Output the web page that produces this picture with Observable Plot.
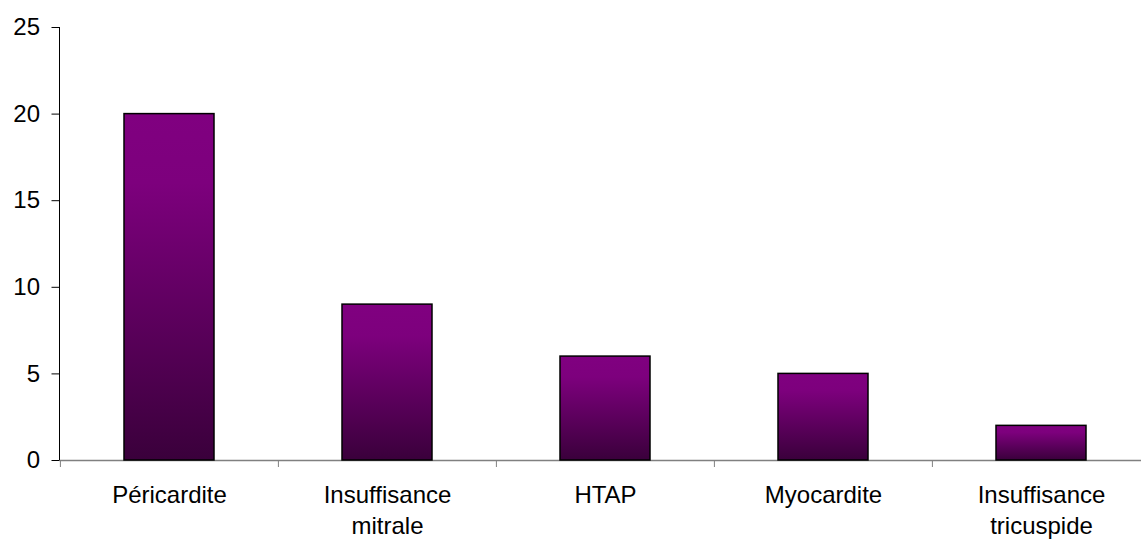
<!DOCTYPE html>
<html>
<head>
<meta charset="utf-8">
<script src="https://cdn.jsdelivr.net/npm/d3@7"></script>
<script src="https://cdn.jsdelivr.net/npm/@observablehq/plot@0.6"></script>
<style>
  html, body { margin: 0; padding: 0; background: #fff; }
  #chart svg { display: block; }
</style>
</head>
<body>
<div id="chart"></div>
<script>
const categories = ["Péricardite", "Insuffisance mitrale", "HTAP", "Myocardite", "Insuffisance tricuspide"];
const tickLabels = ["Péricardite", "Insuffisance\nmitrale", "HTAP", "Myocardite", "Insuffisance\ntricuspide"];
const values = [20, 9, 6, 5, 2];
const yTicks = [0, 5, 10, 15, 20, 25];

const data = categories.map((c, i) => ({category: c, value: values[i]}));
const labelOf = new Map(categories.map((c, i) => [c, tickLabels[i]]));

const W = 1141, H = 540;
const xRange = [59.5, 1150.5];
const step = (xRange[1] - xRange[0]) / categories.length;

const gradientDefs = () => {
  const ns = "http://www.w3.org/2000/svg";
  const defs = document.createElementNS(ns, "defs");
  const lg = document.createElementNS(ns, "linearGradient");
  lg.setAttribute("id", "barGrad");
  lg.setAttribute("x1", "0"); lg.setAttribute("y1", "0");
  lg.setAttribute("x2", "0"); lg.setAttribute("y2", "1");
  [["0", "#800080"], ["0.2", "#7d007d"], ["1", "#3a003b"]].forEach(([o, c]) => {
    const s = document.createElementNS(ns, "stop");
    s.setAttribute("offset", o);
    s.setAttribute("stop-color", c);
    lg.appendChild(s);
  });
  defs.appendChild(lg);
  return defs;
};

const yAxisLine = (index, scales, values, dims) => {
  const ns = "http://www.w3.org/2000/svg";
  const l = document.createElementNS(ns, "line");
  const x = dims.marginLeft;
  l.setAttribute("x1", x); l.setAttribute("x2", x);
  l.setAttribute("y1", scales.y(25)); l.setAttribute("y2", scales.y(0));
  l.setAttribute("stroke", "#000");
  l.setAttribute("stroke-width", "1");
  return l;
};

const chart = Plot.plot({
  width: W,
  height: H,
  marginTop: 27,
  marginBottom: 80,
  marginLeft: 59.5,
  marginRight: W - xRange[1],
  style: {fontFamily: "'Liberation Sans', Arial, sans-serif", fontSize: "24px", color: "#000", background: "#fff"},
  x: {domain: categories, range: xRange, paddingInner: 0.586, paddingOuter: 0.293, label: null},
  y: {domain: [0, 25], label: null},
  marks: [
    gradientDefs,
    Plot.ruleY([0], {stroke: "#808080", strokeWidth: 1.5}),
    Plot.barY(data, {x: "category", y: "value", fill: "url(#barGrad)", stroke: "#000", strokeWidth: 1.5}),
    yAxisLine,
    Plot.axisY({ticks: yTicks, tickSize: 8, tickPadding: 12, stroke: "#000", fontSize: 24, label: null}),
    Plot.axisX({tickSize: 7, dx: -step / 2, tickFormat: () => "", stroke: "#808080", label: null}),
    Plot.axisX({tickSize: 0, tickPadding: 20, tickFormat: d => labelOf.get(d), fontSize: 24, lineHeight: 1.3, label: null})
  ]
});
document.getElementById("chart").appendChild(chart);
</script>
</body>
</html>
